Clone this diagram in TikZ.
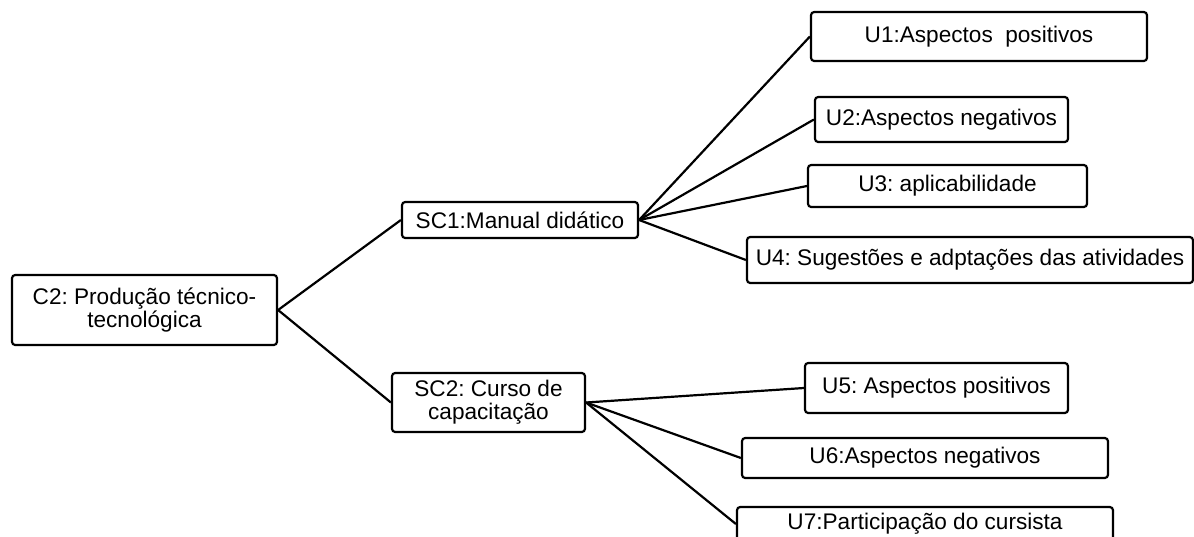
\documentclass[tikz,border=0pt]{standalone}
\usepackage{fontspec}
\setmainfont{Liberation Sans}
\frenchspacing

\begin{document}
\begin{tikzpicture}[x=0.5pt, y=-0.5pt,
    box/.style={draw, line width=1.1pt, rounded corners=1.6pt, align=center,
                inner sep=0pt, font=\fontsize{11.3}{11.4}\selectfont},
    link/.style={line width=1.1pt}]
    % Page frame
    \useasboundingbox (0,0) rectangle (1194,536);
    \clip (0,0) rectangle (1194,536);

    % Category
    \node[box, minimum width=132.5pt, minimum height=35pt] (c2) at (144.5,310) {C2: Produção técnico-\\tecnológica};

    % Subcategories
    \node[box, minimum width=118pt, minimum height=18pt] (sc1) at (520,220) {SC1:Manual didático};
    \node[box, minimum width=96.5pt, minimum height=29.5pt] (sc2) at (488.5,402.5) {SC2: Curso de\\capacitação};

    % Units of SC1
    \node[box, minimum width=168pt, minimum height=24.5pt] (u1) at (979,36.5) {U1:Aspectos~~positivos};
    \node[box, minimum width=126.5pt, minimum height=22.5pt] (u2) at (941.5,119.5) {U2:Aspectos negativos};
    \node[box, minimum width=139.5pt, minimum height=21pt] (u3) at (947.5,186) {U3: aplicabilidade};
    \node[box, minimum width=223pt, minimum height=23pt] (u4) at (970,260) {U4: Sugestões e adptações das atividades};

    % Units of SC2
    \node[box, minimum width=131.5pt, minimum height=25pt] (u5) at (936.5,388) {U5: Aspectos positivos};
    \node[box, minimum width=183pt, minimum height=20pt] (u6) at (925,458) {U6:Aspectos negativos};
    \node[box, minimum width=188pt, minimum height=17pt] (u7) at (925,524) {U7:Participação do cursista};

    % Connectors
    \draw[link] (c2.east) -- (sc1.west);
    \draw[link] (c2.east) -- (sc2.west);
    \foreach \u in {u1,u2,u3,u4}
        \draw[link] (sc1.east) -- (\u.west);
    \foreach \u in {u5,u6,u7}
        \draw[link] (sc2.east) -- (\u.west);

\end{tikzpicture}
\end{document}
